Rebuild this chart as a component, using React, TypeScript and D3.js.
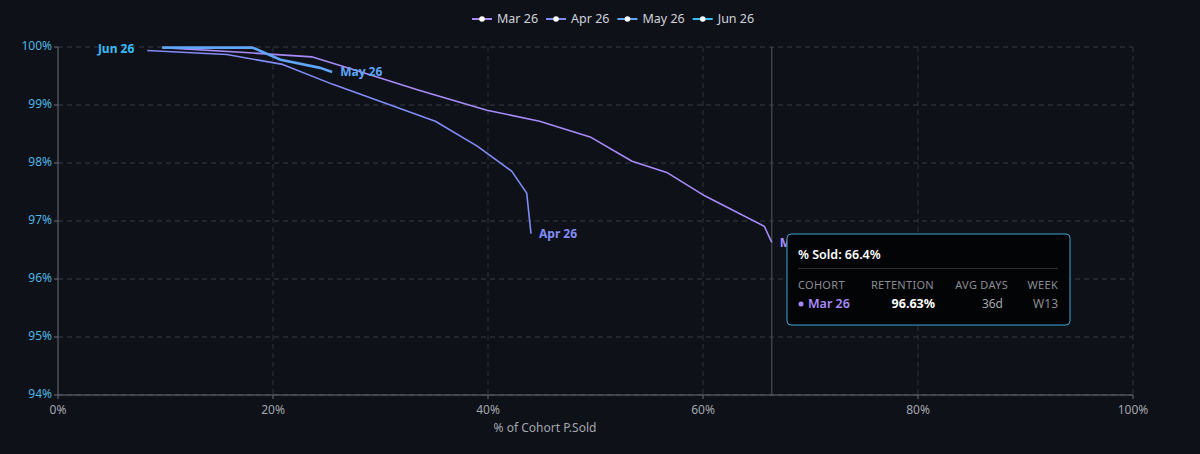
import * as d3 from "d3";
import React from "react";

type Pt = { x: number; y: number };

const cohorts = ["Mar 26", "Apr 26", "May 26", "Jun 26"];
const colors = ["#a78bfa", "#818cf8", "#60a5fa", "#38bdf8"];
const widths = [1.6, 1.6, 2.6, 2.6];

// % of cohort sold (x) vs retention % (y)
const marSold = [9.7, 17.8, 23.6, 28.5, 33.5, 39.9, 44.8, 49.5, 53.4, 56.7, 60.2, 65.7, 66.4];
const marRet = [99.99, 99.9, 99.83, 99.55, 99.26, 98.91, 98.72, 98.45, 98.03, 97.83, 97.43, 96.91, 96.63];
const aprSold = [8.3, 15.7, 20.9, 25.5, 35.1, 39.0, 42.2, 43.6, 44.0];
const aprRet = [99.94, 99.87, 99.7, 99.36, 98.72, 98.29, 97.86, 97.48, 96.78];
const maySold = [9.7, 18.1, 20.7, 24.4, 25.5];
const mayRet = [99.99, 99.99, 99.78, 99.64, 99.57];
const junSold = [8.4];
const junRet = [99.97];

const yTicks = [94, 95, 96, 97, 98, 99, 100];
const xTicks = [0, 20, 40, 60, 80, 100];

const tipSold = 66.4;
const tipHeaders = ["COHORT", "RETENTION", "AVG DAYS", "WEEK"];
const tipRow = ["Mar 26", "96.63%", "36d", "W13"];

const zip = (xs: number[], ys: number[]): Pt[] => xs.map((x, i) => ({ x, y: ys[i] }));
const series = [zip(marSold, marRet), zip(aprSold, aprRet), zip(maySold, mayRet), zip(junSold, junRet)];

const W = 1200;
const H = 454;
const m = { top: 47, right: 67, bottom: 59, left: 58 };
const font = "'Segoe UI', 'Noto Sans', 'Open Sans', sans-serif";

const measure = (() => {
  const ctx = typeof document !== "undefined" ? document.createElement("canvas").getContext("2d") : null;
  return (t: string, f: string) => {
    if (!ctx) return t.length * 7;
    ctx.font = f;
    return ctx.measureText(t).width;
  };
})();

export default function App() {
  const x = d3.scaleLinear([0, 100], [m.left, W - m.right]);
  const y = d3.scaleLinear([94, 100], [H - m.bottom, m.top]);
  const line = d3
    .line<Pt>()
    .x((d) => x(d.x))
    .y((d) => y(d.y));

  // legend layout
  const legFont = `12.5px ${font}`;
  const items = cohorts.map((c) => ({ c, w: 20 + 5 + measure(c, legFont) }));
  const gap = 8;
  let lx = 472;
  const legend = items.map((it, i) => {
    const pos = lx;
    lx += it.w + gap;
    return { ...it, pos, color: colors[i] };
  });

  const cx = x(tipSold);
  const tipX = 787;
  const tipY = 234;
  const tipW = 283;
  const tipH = 91;
  const hdrRight = [0, 147, 221, 271];
  const valRight = [0, 148, 216, 271];

  return (
    <div style={{ position: "fixed", inset: 0, background: "#0e1118" }}>
      <svg width={W} height={H} style={{ display: "block", fontFamily: font }}>
        <rect width={W} height={H} fill="#0e1118" />

        {/* legend */}
        {legend.map((d) => (
          <g key={d.c} transform={`translate(${d.pos},19)`}>
            <line x1={0} x2={20} stroke={d.color} strokeWidth={2} />
            <circle cx={10} r={2.8} fill="#fff" />
            <text x={25} dy="0.35em" fill="#cfd3dc" fontSize={12.5}>
              {d.c}
            </text>
          </g>
        ))}

        {/* grid */}
        {yTicks.map((t) => (
          <line key={"gy" + t} x1={m.left} x2={W - m.right} y1={y(t)} y2={y(t)} stroke="#3a3d45" strokeDasharray="5 4" />
        ))}
        {xTicks.slice(1).map((t) => (
          <line key={"gx" + t} x1={x(t)} x2={x(t)} y1={m.top} y2={H - m.bottom} stroke="#2f323a" strokeDasharray="5 4" />
        ))}

        {/* axes */}
        <line x1={m.left} x2={m.left} y1={m.top} y2={H - m.bottom} stroke="#6b6e75" />
        <line x1={m.left} x2={W - m.right} y1={H - m.bottom} y2={H - m.bottom} stroke="#6b6e75" />
        {yTicks.map((t) => (
          <g key={"ty" + t}>
            <line x1={m.left - 4} x2={m.left} y1={y(t)} y2={y(t)} stroke="#6b6e75" />
            <text x={m.left - 6} y={y(t) - 1} dy="0.35em" textAnchor="end" fill="#4fb6e3" fontSize={12}>
              {t}%
            </text>
          </g>
        ))}
        {xTicks.map((t) => (
          <g key={"tx" + t}>
            <line x1={x(t)} x2={x(t)} y1={H - m.bottom} y2={H - m.bottom + 4} stroke="#6b6e75" />
            <text x={x(t)} y={H - m.bottom + 19} textAnchor="middle" fill="#a3a6ad" fontSize={12}>
              {t}%
            </text>
          </g>
        ))}
        <text x={545} y={432} textAnchor="middle" fill="#a3a6ad" fontSize={12}>
          % of Cohort P.Sold
        </text>

        {/* cursor */}
        <line x1={cx} x2={cx} y1={m.top} y2={H - m.bottom} stroke="#55585f" />

        {/* lines */}
        {series.map((s, i) => (
          <path key={cohorts[i]} d={line(s) ?? ""} fill="none" stroke={colors[i]} strokeWidth={widths[i]} strokeLinejoin="round" />
        ))}

        {/* end labels */}
        {series.map((s, i) => {
          const last = s[s.length - 1];
          const left = s.length === 1;
          return (
            <text
              key={"lab" + cohorts[i]}
              x={x(last.x) + (left ? -14 : 8)}
              y={y(last.y)}
              dy="0.35em"
              textAnchor={left ? "end" : "start"}
              fill={colors[i]}
              fontSize={12}
              fontWeight="bold"
            >
              {cohorts[i]}
            </text>
          );
        })}

        {/* tooltip */}
        <g transform={`translate(${tipX},${tipY})`}>
          <rect width={tipW} height={tipH} rx={4} fill="#030405" stroke="#3aa7d6" strokeWidth={1} />
          <text x={11} y={25} fill="#ffffff" fontSize={12.5} fontWeight="600">
            % Sold: {tipSold}%
          </text>
          <line x1={11} x2={tipW - 12} y1={34.5} y2={34.5} stroke="#2c2e33" />
          {tipHeaders.map((h, i) => (
            <text
              key={h}
              x={i === 0 ? 11 : hdrRight[i]}
              y={55}
              textAnchor={i === 0 ? "start" : "end"}
              fill="#8a8d94"
              fontSize={11}
              letterSpacing={0.3}
            >
              {h}
            </text>
          ))}
          <circle cx={14} cy={70} r={2.5} fill={colors[0]} />
          <text x={21} y={74} fill={colors[0]} fontSize={12.5} fontWeight="600">
            {tipRow[0]}
          </text>
          <text x={valRight[1]} y={74} textAnchor="end" fill="#ffffff" fontSize={12.5} fontWeight="bold">
            {tipRow[1]}
          </text>
          <text x={valRight[2]} y={74} textAnchor="end" fill="#a3a6ad" fontSize={12}>
            {tipRow[2]}
          </text>
          <text x={valRight[3]} y={74} textAnchor="end" fill="#8a8d94" fontSize={12}>
            {tipRow[3]}
          </text>
        </g>
      </svg>
    </div>
  );
}
